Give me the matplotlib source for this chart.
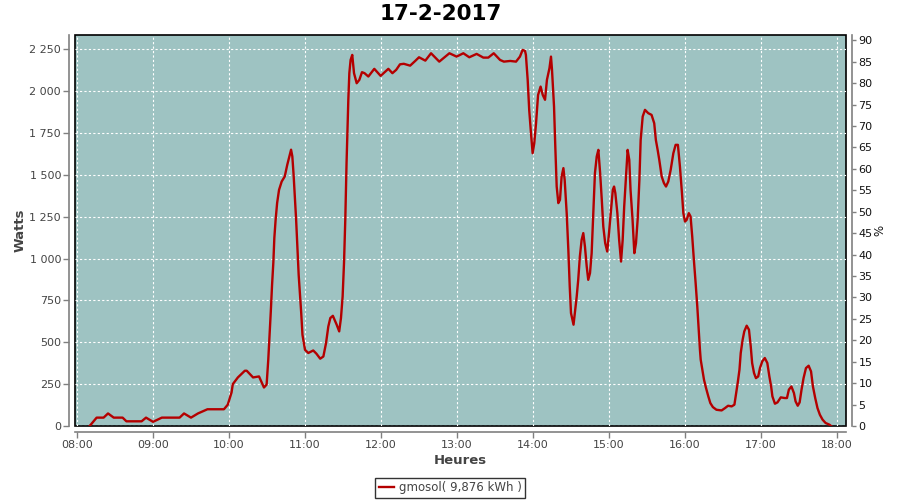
import matplotlib
matplotlib.use("Agg")
import matplotlib.pyplot as plt
from matplotlib.ticker import FuncFormatter

# data: minutes after midnight, watts
minutes = [
    490, 495.5, 501, 504.5, 509, 516, 519, 531, 534.5, 540, 547, 561, 564.5, 570,
    575.5, 583, 596, 599, 602, 603, 607, 612.5, 614, 619, 623.7, 627.6, 629.7,
    631, 632, 633, 634, 635, 635.8, 636.8, 638, 639.5, 641.6, 644, 646, 648, 649,
    650, 651, 653, 654, 655, 657, 658, 660, 662.6, 666.5, 669, 672, 674.5, 676.6,
    678.4, 680, 682, 685, 687, 688.4, 689.7, 690.8, 691.8, 692.8, 693.5, 694.2,
    695, 696, 697.3, 698.7, 700.8, 702.9, 705, 707, 710, 714.7, 719.7, 725.8, 729,
    732, 735, 738, 743, 747, 750, 755, 759.5, 766, 774, 779.7, 785, 789.7, 795.5,
    800.8, 804.7, 809, 814, 817, 822, 826.6, 829.7, 831.8, 833.7, 834.4, 835.8,
    837, 838.4, 839.7, 841, 842.4, 844, 846, 847.7, 849.5, 851, 853, 854.2, 855,
    856.6, 857.6, 858.7, 860, 861.3, 862.6, 864, 865, 866.6, 867.9, 869, 870,
    872, 873, 874.5, 875.7, 877, 878.4, 879.7, 881, 882.4, 883.6, 885, 886.3,
    887.6, 888.9, 890.3, 891.6, 893, 894.3, 895.5, 897, 898.6, 900, 901.6, 903,
    904, 905, 906.6, 908, 909.5, 910.8, 912, 913.4, 914.7, 916, 917, 918.6, 920,
    921.3, 922.6, 924, 925, 926.6, 928.4, 931, 933.6, 935.7, 937, 938.4, 939.7,
    941.6, 943.4, 945, 946.8, 948.7, 950.8, 952.6, 954.4, 956, 957.6, 958.7, 960,
    961.3, 963, 964.4, 965.7, 967, 968.4, 969.7, 971, 971.8, 972.4, 973.7, 975,
    976.6, 978.4, 980, 982, 984.8, 988.9, 991.6, 994, 996.8, 999, 1000, 1001.6,
    1003, 1004, 1005.5, 1006.8, 1008.7, 1010.5, 1011.9, 1013, 1014.5, 1016,
    1017.8, 1019.2, 1021, 1023, 1025, 1026.6, 1028, 1029, 1031, 1033, 1035.6,
    1038.8, 1040.5, 1042, 1044, 1046, 1047.3, 1049, 1050.5, 1052, 1053.6, 1055.5,
    1057.6, 1059.5, 1061, 1062.8, 1064.6, 1066.5, 1068.6, 1071, 1074, 1075.3,
]
watts = [
    0, 50, 50, 75, 50, 50, 28, 28, 50, 25, 50, 50, 75, 50,
    75, 100, 100, 127, 200, 250, 290, 330, 330, 290, 296, 230, 247,
    396, 535, 684, 843, 975, 1124, 1231, 1332, 1410, 1460, 1490, 1560, 1620, 1650,
    1610, 1500, 1231, 1072, 903, 676, 545, 455, 436, 451, 432, 402, 415, 495,
    594, 645, 658, 605, 565, 645, 773, 973, 1231, 1570, 1768, 1948,
    2107, 2186, 2216, 2107, 2047, 2067, 2113, 2107, 2087, 2133, 2091, 2133, 2107,
    2127, 2160, 2163, 2152, 2180, 2202, 2182, 2226, 2176, 2226, 2206, 2226, 2202, 2222,
    2200, 2200, 2226, 2186, 2176, 2180, 2176, 2206, 2246, 2240, 2216, 2067,
    1888, 1749, 1629, 1689, 1808, 1977, 2027, 1977, 1948, 2067, 2137, 2206, 2127,
    1908, 1669, 1430, 1331, 1351, 1490, 1540, 1470, 1271, 1052, 833, 674,
    605, 674, 773, 873, 1012, 1112, 1152, 1072, 953, 873, 913, 1032,
    1271, 1510, 1609, 1649, 1510, 1351, 1191, 1092, 1042, 1152, 1291, 1410,
    1430, 1391, 1271, 1112, 982, 1112, 1311, 1490, 1649, 1589, 1410, 1231, 1032,
    1092, 1231, 1470, 1708, 1848, 1888, 1868, 1858, 1808, 1708, 1649, 1589,
    1490, 1450, 1430, 1460, 1530, 1629, 1679, 1679, 1549, 1391, 1271, 1221,
    1231, 1271, 1251, 1132, 993, 853, 714, 555, 455, 396, 336, 276,
    227, 177, 137, 113, 97, 93, 107, 121, 117, 127, 177, 257,
    336, 436, 515, 565, 599, 575, 475, 376, 316, 286,
    296, 346, 386, 406, 376, 296, 236, 177, 133, 141, 171,
    167, 167, 217, 236, 197, 147, 121, 141, 217, 286, 346,
    360, 326, 236, 167, 107, 67, 38, 18, 8, 0,
]
hour_ticks = list(range(8, 19))
watt_ticks = [0, 250, 500, 750, 1000, 1250, 1500, 1750, 2000, 2250]
pct_ticks = list(range(0, 95, 5))

hours = [m / 60 for m in minutes]

bg = "#9ec3c2"
line_col = "#b40000"
grey = "#808080"
txt = "#444444"

fig = plt.figure(figsize=(9, 5), dpi=100)
ax = fig.add_axes([75 / 900, 74 / 500, 771 / 900, 391 / 500])
ax.set_facecolor(bg)
ax.patch.set_edgecolor("black")
ax.patch.set_linewidth(1.2)

ax.plot(hours, watts, color=line_col, linewidth=1.7, zorder=3,
        label="gmosol( 9,876 kWh )")

ax.set_xlim(8 - 2 / 76, 8 + 769 / 76)
ax.set_ylim(0, 2335)
ax.set_xticks(hour_ticks)
ax.set_xticklabels(["%02d:00" % h for h in hour_ticks])
ax.set_yticks(watt_ticks)
ax.yaxis.set_major_formatter(FuncFormatter(lambda v, p: "{:,.0f}".format(v).replace(",", " ")))
ax.grid(True, color="white", linestyle=(0, (2, 2)), linewidth=0.8)

for s in ["top", "right"]:
    ax.spines[s].set_visible(False)
for s in ["left", "bottom"]:
    ax.spines[s].set_position(("outward", 4))
    ax.spines[s].set_color(grey)
    ax.spines[s].set_linewidth(1.2)
ax.tick_params(axis="both", direction="out", length=4, width=1, color=grey,
               labelsize=8, labelcolor=txt, pad=2)

ax.set_xlabel("Heures", fontsize=9.5, fontweight="bold", color=txt, labelpad=3)

ax2 = ax.twinx()
ax2.set_ylim(0, 91.24)
ax2.set_yticks(pct_ticks)
for s in ["top", "left", "bottom"]:
    ax2.spines[s].set_visible(False)
ax2.spines["right"].set_position(("outward", 4))
ax2.spines["right"].set_color(grey)
ax2.spines["right"].set_linewidth(1.2)
ax2.tick_params(axis="y", direction="out", length=3, width=1, color=grey,
                labelsize=8, labelcolor="#111111", pad=2)

# axis titles placed where the reference has them
fig.text(20 / 900, 1 - 230 / 500, "Watts", rotation=90, ha="center", va="center",
         fontsize=9.5, fontweight="bold", color=txt)
fig.text(880 / 900, 1 - 230 / 500, "%", rotation=90, ha="center", va="center",
         fontsize=8.5, color="#111111")

fig.suptitle("17-2-2017", x=0.49, y=1 - 14 / 500, va="center",
             fontsize=15.5, fontweight="bold")

handles, labels = ax.get_legend_handles_labels()
leg = fig.legend(handles, labels, loc="center", bbox_to_anchor=(0.5, 1 - 488 / 500),
                 fontsize=8.5, frameon=True, fancybox=False, handlelength=1.3,
                 handletextpad=0.4, borderpad=0.3, labelcolor=txt)
leg.get_frame().set_edgecolor("black")
leg.get_frame().set_linewidth(1.0)

fig.savefig("out.png", dpi=100)
